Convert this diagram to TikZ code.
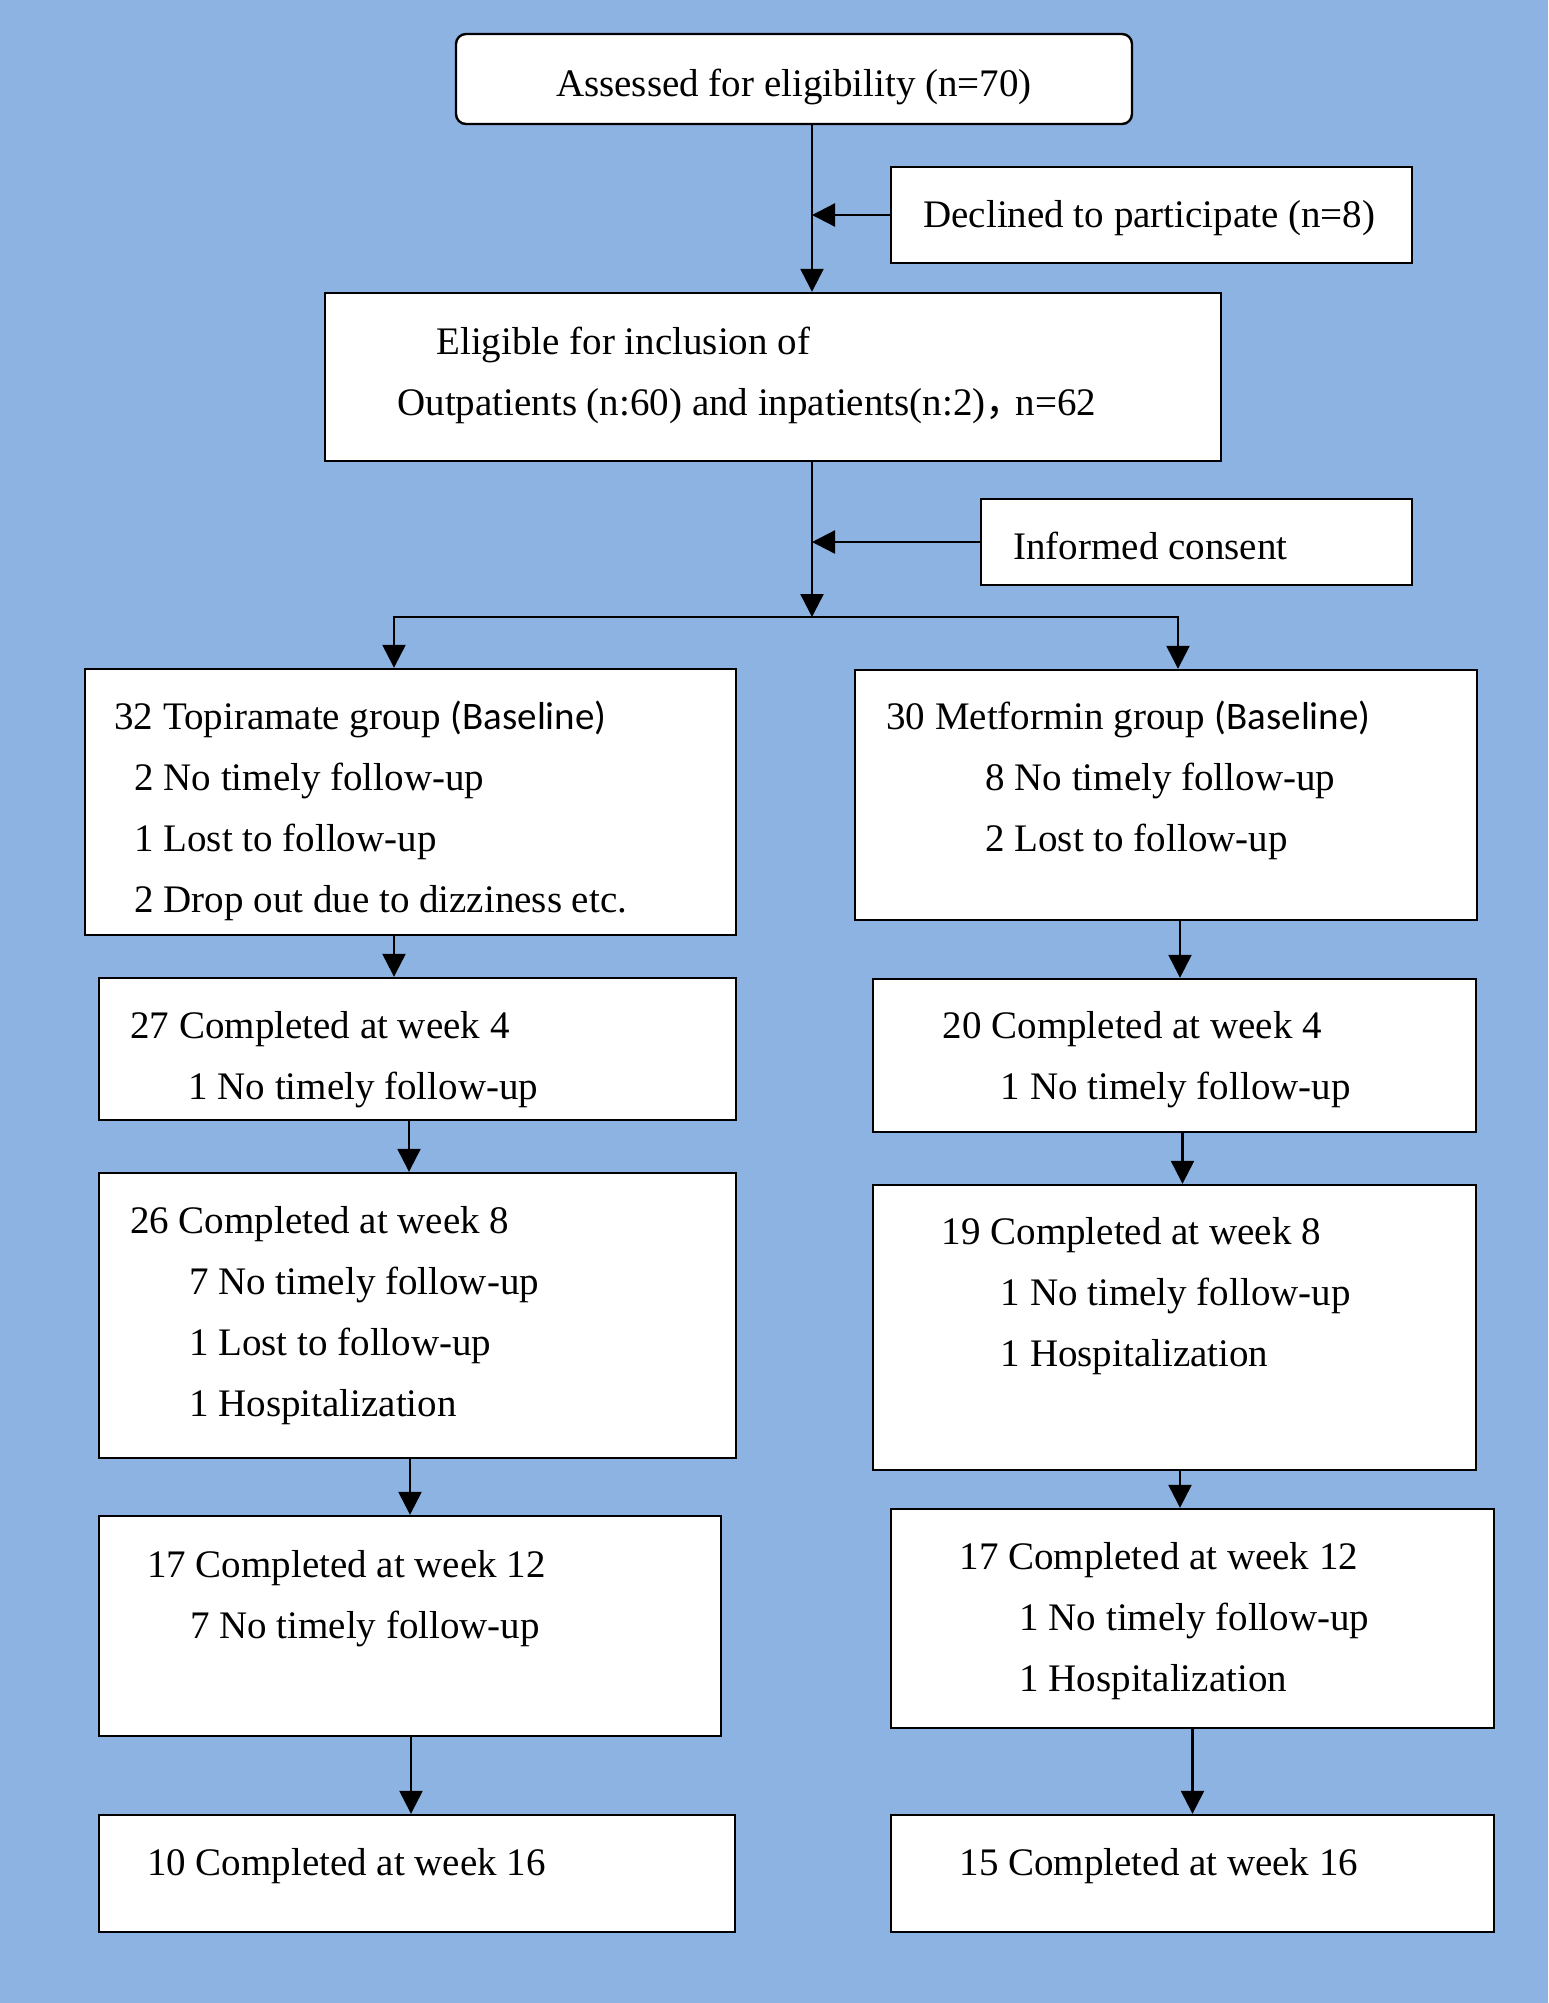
\documentclass[tikz,border=0pt]{standalone}
\usepackage{fontspec}
\setmainfont{Liberation Serif}
\newfontfamily\calibri{Carlito}
\newfontfamily\cjkfont{Noto Sans CJK SC}
\usetikzlibrary{arrows.meta,fit}
\definecolor{sheetblue}{HTML}{8DB3E2}
\tikzset{
  box/.style={draw, line width=1.2pt, fill=white, inner sep=0pt},
  lines/.style={anchor=north west, align=left, inner sep=0pt, font=\fontsize{19.5}{30.5}\selectfont},
  arr/.style={line width=1.2pt, -{Triangle[length=11.5pt,width=11.5pt]}},
  twoarr/.style={line width=1.2pt, {Triangle[length=11.5pt,width=11.5pt]}-{Triangle[length=11.5pt,width=11.5pt]}},
}
\begin{document}
\begin{tikzpicture}[x=0.5pt,y=-0.5pt]
\fill[sheetblue] (0,0) rectangle (1548,2003);
% boxes
\node[box, rounded corners=5pt, fit={(456,34) (1132,124)}] (assess) {};
\node[box, fit={(891,167) (1412,263)}] (declined) {};
\node[box, fit={(325,293) (1221,461)}] (eligible) {};
\node[box, fit={(981,499) (1412,585)}] (consent) {};
\node[box, fit={(85,669) (736,935)}] (lb) {};
\node[box, fit={(855,670) (1477,920)}] (rb) {};
\node[box, fit={(99,978) (736,1120)}] (l4) {};
\node[box, fit={(873,979) (1476,1132)}] (r4) {};
\node[box, fit={(99,1173) (736,1458)}] (l8) {};
\node[box, fit={(873,1185) (1476,1470)}] (r8) {};
\node[box, fit={(99,1516) (721,1736)}] (l12) {};
\node[box, fit={(891,1509) (1494,1728)}] (r12) {};
\node[box, fit={(99,1815) (735,1932)}] (l16) {};
\node[box, fit={(891,1815) (1494,1932)}] (r16) {};
% texts
\node[lines, anchor=north] (assesst) at (794,53.3) {\strut Assessed for eligibility (n=70)};
\node[lines] (declinedt) at (923,184.3) {\strut Declined to participate (n=8)};
\node[lines] (eligiblet) at (397,311.3) {\hspace*{19.5pt}\strut Eligible for inclusion of\\
  \strut Outpatients (n:60) and inpatients(n:2){\cjkfont ，}\kern-4.5pt n=62};
\node[lines] (consentt) at (1013,516) {\strut Informed consent};
\node[lines] (lbt) at (114,686.8) {\strut 32 Topiramate group {\calibri (Baseline)}\\
  \hspace*{10pt}\strut 2 No timely follow-up\\
  \hspace*{10pt}\strut 1 Lost to follow-up\\
  \hspace*{10pt}\strut 2 Drop out due to dizziness etc.};
\node[lines] (rbt) at (886,686.3) {\strut 30 Metformin group {\calibri (Baseline)}\\
  \hspace*{49.5pt}\strut 8 No timely follow-up\\
  \hspace*{49.5pt}\strut 2 Lost to follow-up};
\node[lines] (l4t) at (130,995.3) {\strut 27 Completed at week 4\\
  \hspace*{29pt}\strut 1 No timely follow-up};
\node[lines] (r4t) at (942.4,995.3) {\strut 20 Completed at week 4\\
  \hspace*{29pt}\strut 1 No timely follow-up};
\node[lines] (l8t) at (129.8,1190.3) {\strut 26 Completed at week 8\\
  \hspace*{29.5pt}\strut 7 No timely follow-up\\
  \hspace*{29.5pt}\strut 1 Lost to follow-up\\
  \hspace*{29.5pt}\strut 1 Hospitalization};
\node[lines] (r8t) at (941.4,1200.9) {\strut 19 Completed at week 8\\
  \hspace*{29.5pt}\strut 1 No timely follow-up\\
  \hspace*{29.5pt}\strut 1 Hospitalization};
\node[lines] (l12t) at (146.7,1534.3) {\strut 17 Completed at week 12\\
  \hspace*{21.5pt}\strut 7 No timely follow-up};
\node[lines] (r12t) at (959.2,1526.3) {\strut 17 Completed at week 12\\
  \hspace*{30pt}\strut 1 No timely follow-up\\
  \hspace*{30pt}\strut 1 Hospitalization};
\node[lines] (l16t) at (146.7,1832.3) {\strut 10 Completed at week 16};
\node[lines] (r16t) at (959.2,1832.3) {\strut 15 Completed at week 16};
% connector columns
\coordinate (xmain) at (812,0);
\coordinate (split) at (812,617);
\coordinate (splitL) at (394,617);
\coordinate (splitR) at (1178,617);
\coordinate (xl2) at (409,0);
\coordinate (xl3) at (410,0);
\coordinate (xl4) at (411,0);
\coordinate (xr1) at (1180,0);
\coordinate (xr2) at (1182.5,0);
\coordinate (xr3) at (1180,0);
\coordinate (xr4) at (1192.5,0);
% connectors
\draw[arr] (assess.south -| xmain) -- (eligible.north -| xmain);
\draw[arr] (declined.west) -- (declined.west -| xmain);
\draw[arr] (eligible.south -| xmain) -- (split);
\draw[arr] (consent.west) -- (consent.west -| xmain);
\draw[twoarr] (lb.north -| splitL) -- (splitL) -- (splitR) -- (rb.north -| splitR);
\draw[arr] (lb.south -| splitL) -- (l4.north -| splitL);
\draw[arr] (l4.south -| xl2) -- (l8.north -| xl2);
\draw[arr] (l8.south -| xl3) -- (l12.north -| xl3);
\draw[arr] (l12.south -| xl4) -- (l16.north -| xl4);
\draw[arr] (rb.south -| xr1) -- (r4.north -| xr1);
\draw[arr] (r4.south -| xr2) -- (r8.north -| xr2);
\draw[arr] (r8.south -| xr3) -- (r12.north -| xr3);
\draw[arr] (r12.south -| xr4) -- (r16.north -| xr4);
\end{tikzpicture}
\end{document}
